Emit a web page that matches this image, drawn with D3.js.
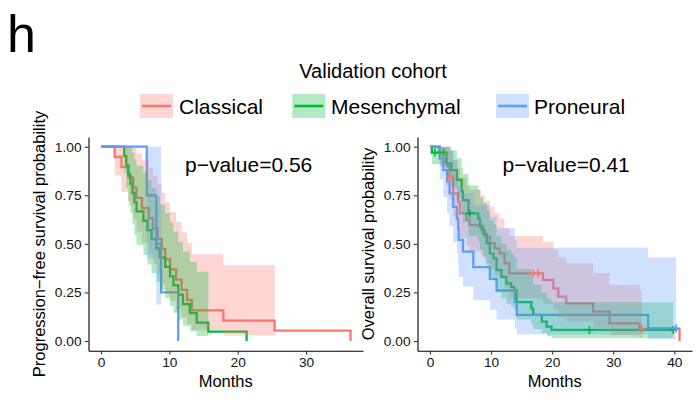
<!DOCTYPE html>
<html><head><meta charset="utf-8">
<script src="https://cdn.jsdelivr.net/npm/d3@7"></script>
<style>
html,body{margin:0;padding:0;background:#fff;}
svg{display:block;font-family:"Liberation Sans",Arial,Helvetica,sans-serif;}
</style></head>
<body>
<svg id="chart" width="699" height="405"></svg>
<script>
// ---------- DATA ----------
const groups = ["Classical", "Mesenchymal", "Proneural"];
const groupColors = ["#F8766D", "#00BA38", "#619CFF"];
const legendTitle = "Validation cohort";
const pLeft = "p\u2212value=0.56";
const pRight = "p\u2212value=0.41";
const yTicks = [0, 0.25, 0.5, 0.75, 1];
const xTicksLeft = [0, 10, 20, 30];
const xTicksRight = [0, 10, 20, 30, 40];

// Left: progression-free survival
const pfsClassicalTime  = [2.0,3.0,4.0,4.7,5.2,6.0,7.0,7.6,8.3,8.9,9.4,10.1,11.0,11.8,12.6,13.3,17.9,25.4,36.5];
const pfsClassicalSurv  = [.947,.895,.842,.789,.737,.684,.632,.579,.526,.474,.421,.368,.316,.263,.211,.158,.105,.053,0];
const pfsClassicalLower = [.852,.767,.693,.626,.564,.504,.448,.394,.343,.295,.248,.204,.163,.124,.088,.056,.028,.008,null];
const pfsClassicalUpper = [1,1,1,.995,.964,.929,.891,.851,.807,.762,.714,.663,.613,.558,.504,.447,.39,.354,null];
const pfsClassicalCensor = [];

const pfsMesenTime  = [3.4,3.7,4.0,4.3,4.6,4.9,5.2,6.2,6.8,7.4,8.1,8.6,9.4,10.1,10.6,11.3,12.0,13.0,14.0,15.7,21.3];
const pfsMesenSurv  = [.952,.905,.857,.810,.762,.714,.667,.619,.571,.524,.476,.429,.381,.333,.286,.238,.190,.143,.095,.048,0];
const pfsMesenLower = [.865,.788,.720,.658,.600,.545,.493,.443,.394,.348,.304,.262,.221,.182,.145,.111,.079,.050,.026,.007,null];
const pfsMesenUpper = [1,1,1,.996,.968,.935,.902,.866,.828,.788,.745,.703,.657,.610,.563,.511,.46,.407,.356,.32,null];
const pfsMesenCensor = [];

const pfsProneuralTime  = [6.7,8.1,8.8,11.3];
const pfsProneuralSurv  = [.75,.5,.25,0];
const pfsProneuralLower = [.426,.188,.046,null];
const pfsProneuralUpper = [1,1,1,null];
const pfsProneuralCensor = [];

// Right: overall survival
const osClassicalTime  = [1.6,2.5,2.7,3.2,3.3,3.8,4.6,4.9,6.0,6.5,8.4,9.0,9.8,10.6,11.4,12.2,13.0,16.9,17.7,18.5,20.2,21.0,22.3,26.7,29.4,34.3,34.7,40.85];
const osClassicalSurv  = [.966,.966,.90,.846,.846,.76,.717,.657,.623,.597,.571,.537,.503,.477,.451,.40,.348,.348,.348,.314,.271,.228,.194,.151,.091,.062,.062,0];
const osClassicalLower = [.90,.90,.80,.73,.73,.64,.59,.53,.49,.46,.44,.40,.37,.34,.32,.27,.22,.22,.22,.19,.16,.12,.10,.07,.03,.015,.015,null];
const osClassicalUpper = [1,1,1,.98,.98,.93,.89,.84,.80,.78,.75,.72,.69,.66,.63,.58,.54,.54,.54,.51,.47,.43,.40,.35,.29,.26,.26,null];
const osClassicalCensor = [2.5,3.3,16.9,17.7,34.7];

const osMesenTime  = [0.3,0.8,2.2,2.7,3.5,4.4,5.2,5.4,6.3,6.5,7.9,8.2,8.7,9.3,9.8,10.4,10.9,11.7,12.5,13.3,13.8,14.2,16.6,16.9,18.3,19.1,19.9,26.1,39.8];
const osMesenSurv  = [.97,.97,.97,.914,.88,.83,.77,.725,.657,.657,.63,.588,.55,.503,.45,.425,.365,.33,.296,.279,.26,.2,.167,.134,.1,.074,.057,.057,.057];
const osMesenLower = [.91,.91,.91,.83,.79,.73,.66,.61,.54,.54,.51,.47,.43,.38,.33,.31,.25,.22,.19,.175,.16,.11,.085,.06,.04,.025,.015,.015,.015];
const osMesenUpper = [1,1,1,1,.98,.94,.89,.86,.80,.80,.78,.74,.71,.67,.62,.60,.54,.50,.47,.45,.43,.37,.33,.29,.25,.22,.20,.20,.20];
const osMesenCensor = [0.8,2.2,6.5,26.1,39.8];

const osProneuralTime  = [1.6,2.2,2.8,3.2,3.8,4.4,4.6,4.7,5.4,7.1,9.8,10.9,13.9,14.2,35.7,40.3];
const osProneuralSurv  = [.94,.88,.82,.76,.69,.63,.58,.52,.46,.38,.32,.26,.20,.134,.065,.065];
const osProneuralLower = [.83,.74,.66,.59,.51,.45,.39,.33,.28,.21,.16,.11,.07,.035,.01,.01];
const osProneuralUpper = [1,1,1,.98,.93,.88,.84,.80,.76,.70,.64,.58,.52,.48,.43,.43];
const osProneuralCensor = [40.3];

// ---------- BUILD ----------
function curve(time, surv, lower, upper, censor){
  return {time, surv, lower, upper, censor};
}
const leftCurves = [
  curve(pfsClassicalTime,pfsClassicalSurv,pfsClassicalLower,pfsClassicalUpper,pfsClassicalCensor),
  curve(pfsMesenTime,pfsMesenSurv,pfsMesenLower,pfsMesenUpper,pfsMesenCensor),
  curve(pfsProneuralTime,pfsProneuralSurv,pfsProneuralLower,pfsProneuralUpper,pfsProneuralCensor)
];
const rightCurves = [
  curve(osClassicalTime,osClassicalSurv,osClassicalLower,osClassicalUpper,osClassicalCensor),
  curve(osMesenTime,osMesenSurv,osMesenLower,osMesenUpper,osMesenCensor),
  curve(osProneuralTime,osProneuralSurv,osProneuralLower,osProneuralUpper,osProneuralCensor)
];

const svg = d3.select("#chart");
const FONT = '"Liberation Sans",Arial,Helvetica,sans-serif';

// panel label
svg.append("text").attr("x", 7).attr("y", 52).attr("font-size", 52).attr("fill","#000").text("h");

// legend
svg.append("text").attr("x", 373).attr("y", 77.7).attr("text-anchor","middle")
  .attr("font-size", 20).attr("fill","#000").text(legendTitle);
const legendKeyX = [140, 292.3, 496];
const legendTextX = [179, 331, 534];
groups.forEach((g,i)=>{
  const kg = svg.append("g");
  kg.append("rect").attr("x", legendKeyX[i]).attr("y", 94).attr("width", 33).attr("height", 24)
    .attr("fill", groupColors[i]).attr("fill-opacity", 0.3);
  kg.append("line").attr("x1", legendKeyX[i]+2).attr("x2", legendKeyX[i]+31)
    .attr("y1", 106).attr("y2", 106).attr("stroke", groupColors[i]).attr("stroke-width", 2.6);
  svg.append("text").attr("x", legendTextX[i]).attr("y", 113.8)
    .attr("font-size", 21).attr("fill","#000").text(g);
});

function drawPanel(curves, xDomain, xRange, xTicks, pText, pX, yTitle, yTitleX){
  const x = d3.scaleLinear().domain(xDomain).range(xRange);
  const y = d3.scaleLinear().domain([-0.05, 1.05]).range([350.7, 137]);
  const g = svg.append("g");
  const clipId = "clip" + Math.round(xRange[0]);
  svg.append("clipPath").attr("id", clipId).append("rect")
    .attr("x", xRange[0]).attr("y", 137).attr("width", xRange[1]-xRange[0]).attr("height", 350.7-137);
  const plot = g.append("g").attr("clip-path", `url(#${clipId})`);

  const line = d3.line().x(d=>x(d[0])).y(d=>y(d[1])).curve(d3.curveStepAfter);
  const area = d3.area().x(d=>x(d[0])).y0(d=>y(d[1])).y1(d=>y(d[2])).curve(d3.curveStepAfter);

  // step lines first
  curves.forEach((c,i)=>{
    const pts = [[0,1]].concat(c.time.map((t,j)=>[t, c.surv[j]]));
    plot.append("path").attr("d", line(pts)).attr("fill","none")
      .attr("stroke", groupColors[i]).attr("stroke-width", 2.3);
  });
  // confidence ribbons on top (as in survminer)
  curves.forEach((c,i)=>{
    const pts = [[0,1,1]];
    for(let j=0;j<c.time.length;j++){
      if(c.lower[j]==null) break;
      pts.push([c.time[j], c.lower[j], c.upper[j]]);
    }
    plot.append("path").attr("d", area(pts)).attr("fill", groupColors[i])
      .attr("fill-opacity", 0.3).attr("stroke","none");
  });
  // censor marks
  curves.forEach((c,i)=>{
    c.censor.forEach(t=>{
      const j = c.time.indexOf(t);
      const s = c.surv[j];
      const cx = x(t), cy = y(s);
      plot.append("path").attr("d", `M${cx-4},${cy}H${cx+4}M${cx},${cy-4}V${cy+4}`)
        .attr("stroke", groupColors[i]).attr("stroke-width", 1.6).attr("fill","none");
    });
  });

  // axes
  const ya = g.append("g").attr("transform", `translate(${xRange[0]},0)`)
    .call(d3.axisLeft(y).tickValues(yTicks).tickFormat(d3.format(".2f")).tickSize(3.7).tickPadding(3.3).tickSizeOuter(0));
  const xa = g.append("g").attr("transform", `translate(0,350.7)`)
    .call(d3.axisBottom(x).tickValues(xTicks).tickFormat(d3.format("d")).tickSize(3.7).tickPadding(2.6).tickSizeOuter(0));
  [ya, xa].forEach(a=>{
    a.select(".domain").attr("stroke","#000").attr("stroke-width",1.1);
    a.selectAll(".tick line").attr("stroke","#333").attr("stroke-width",1.1);
    a.selectAll("text").attr("font-size", 13.7).attr("fill","#111").attr("font-family", FONT);
  });

  // titles
  g.append("text").attr("x", (xRange[0]+xRange[1])/2).attr("y", 386.7).attr("text-anchor","middle")
    .attr("font-size", 16.5).attr("fill","#000").text("Months");
  g.append("text").attr("transform", `translate(${yTitleX},244) rotate(-90)`).attr("text-anchor","middle")
    .attr("font-size", 16.5).attr("fill","#000").text(yTitle);
  g.append("text").attr("x", pX).attr("y", 171.5).attr("font-size", 21).attr("fill","#000").text(pText);
}

drawPanel(leftCurves, [-1.825, 38.325], [88.5, 363], xTicksLeft, pLeft, 185, "Progression\u2212free survival probability", 44.5);
drawPanel(rightCurves, [-2.04, 42.89], [417.5, 692], xTicksRight, pRight, 502.5, "Overall survival probability", 373.5);
</script>
</body></html>
